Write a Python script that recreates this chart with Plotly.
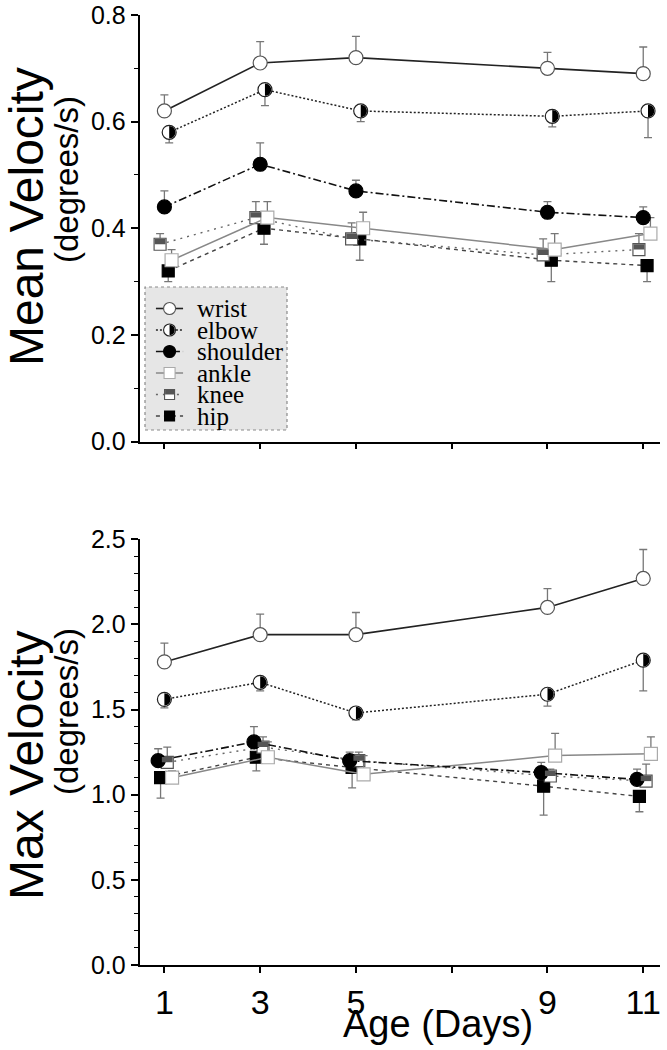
import plotly.graph_objects as go

# ---------------- data ----------------
DAYS = [1, 3, 5, 9, 11]
SERIES = ["wrist", "elbow", "shoulder", "ankle", "knee", "hip"]

X_TICKS = [1, 3, 5, 7, 9, 11]
X_TICK_TEXT = ["1", "3", "5", "", "9", "11"]

# Mean velocity (degrees/s)
MEAN_WRIST = [0.62, 0.71, 0.72, 0.70, 0.69]
MEAN_ELBOW = [0.58, 0.66, 0.62, 0.61, 0.62]
MEAN_SHOULDER = [0.44, 0.52, 0.47, 0.43, 0.42]
MEAN_ANKLE = [0.34, 0.42, 0.40, 0.36, 0.39]
MEAN_KNEE = [0.37, 0.42, 0.38, 0.35, 0.36]
MEAN_HIP = [0.32, 0.40, 0.38, 0.34, 0.33]

MEAN_WRIST_ERR = [0.03, 0.04, 0.04, 0.03, 0.05]
MEAN_ELBOW_ERR = [0.02, 0.03, 0.02, 0.02, 0.05]
MEAN_SHOULDER_ERR = [0.03, 0.04, 0.02, 0.02, 0.02]
MEAN_ANKLE_ERR = [0.02, 0.03, 0.03, 0.03, 0.03]
MEAN_KNEE_ERR = [0.02, 0.03, 0.03, 0.03, 0.03]
MEAN_HIP_ERR = [0.02, 0.03, 0.04, 0.04, 0.03]

# Max velocity (degrees/s)
MAX_WRIST = [1.78, 1.94, 1.94, 2.10, 2.27]
MAX_ELBOW = [1.56, 1.66, 1.48, 1.59, 1.79]
MAX_SHOULDER = [1.20, 1.31, 1.20, 1.13, 1.09]
MAX_ANKLE = [1.10, 1.22, 1.12, 1.23, 1.24]
MAX_KNEE = [1.19, 1.28, 1.20, 1.11, 1.08]
MAX_HIP = [1.10, 1.22, 1.16, 1.05, 0.99]

MAX_WRIST_ERR = [0.11, 0.12, 0.13, 0.11, 0.17]
MAX_ELBOW_ERR = [0.05, 0.05, 0.04, 0.07, 0.18]
MAX_SHOULDER_ERR = [0.07, 0.09, 0.05, 0.06, 0.06]
MAX_ANKLE_ERR = [0.04, 0.09, 0.11, 0.13, 0.10]
MAX_KNEE_ERR = [0.09, 0.06, 0.05, 0.04, 0.10]
MAX_HIP_ERR = [0.12, 0.08, 0.12, 0.17, 0.09]

MEAN = {"wrist": MEAN_WRIST, "elbow": MEAN_ELBOW, "shoulder": MEAN_SHOULDER,
        "ankle": MEAN_ANKLE, "knee": MEAN_KNEE, "hip": MEAN_HIP}
MEAN_ERR = {"wrist": MEAN_WRIST_ERR, "elbow": MEAN_ELBOW_ERR, "shoulder": MEAN_SHOULDER_ERR,
            "ankle": MEAN_ANKLE_ERR, "knee": MEAN_KNEE_ERR, "hip": MEAN_HIP_ERR}
MAXV = {"wrist": MAX_WRIST, "elbow": MAX_ELBOW, "shoulder": MAX_SHOULDER,
        "ankle": MAX_ANKLE, "knee": MAX_KNEE, "hip": MAX_HIP}
MAXV_ERR = {"wrist": MAX_WRIST_ERR, "elbow": MAX_ELBOW_ERR, "shoulder": MAX_SHOULDER_ERR,
            "ankle": MAX_ANKLE_ERR, "knee": MAX_KNEE_ERR, "hip": MAX_HIP_ERR}

# ---------------- styles ----------------
W, H = 667, 1050
SANS = "Liberation Sans, Arial, sans-serif"
SERIF = "Liberation Serif, Times New Roman, serif"
ERR_COLOR = "#777777"

STYLE = {
    "wrist": dict(line=dict(color="#222222", width=1.6, dash="solid"),
                  symbol="circle", size=14, fill="white", edge="#555555", err="up"),
    "elbow": dict(line=dict(color="#222222", width=1.5, dash="2px,2px"),
                  symbol="circle", size=14, fill="white", edge="#222222", err="down", half="circle"),
    "shoulder": dict(line=dict(color="#111111", width=1.6, dash="8px,3px,2px,3px"),
                     symbol="circle", size=14, fill="black", edge="black", err="up"),
    "ankle": dict(line=dict(color="#888888", width=1.5, dash="solid"),
                  symbol="square", size=13, fill="white", edge="#aaaaaa", err="up"),
    "knee": dict(line=dict(color="#666666", width=1.4, dash="2px,5px"),
                 symbol="square", size=12, fill="white", edge="#555555", err="up", half="square"),
    "hip": dict(line=dict(color="#444444", width=1.4, dash="4px,4px"),
                symbol="square", size=12, fill="black", edge="black", err="down"),
}
# small horizontal dodge (in days) so overlapping markers stay visible
DODGE_TOP = {"wrist": 0.0, "elbow": 0.1, "shoulder": 0.0, "ankle": 0.15, "knee": -0.09, "hip": 0.08}
DODGE_BOT = {"wrist": 0.0, "elbow": 0.0, "shoulder": -0.13, "ankle": 0.16, "knee": 0.06, "hip": -0.08}

PLOT_L, PLOT_R = 139.5, 660
TOP1, BOT1 = 15, 441.5
TOP2, BOT2 = 539.3, 965


def fx(p):
    return p / W


def fy(p):
    return 1 - p / H


fig = go.Figure()
shapes = []


def half_shape(kind, xref, yref, x, y, r):
    k = 0.5523 * r
    base = dict(xref=xref, yref=yref, xsizemode="pixel", ysizemode="pixel",
                xanchor=x, yanchor=y, line=dict(width=0), layer="above")
    if kind == "circle":
        path = (f"M0,{r} C{k},{r} {r},{k} {r},0 C{r},{-k} {k},{-r} 0,{-r} Z")
        base.update(type="path", path=path, fillcolor="black")
    else:
        base.update(type="rect", x0=-r, x1=r, y0=0, y1=r, fillcolor="#555555")
    return base


def add_panel(values, errs, dodge, xref, yref):
    for name in reversed(SERIES):
        st = STYLE[name]
        xs = [d + dodge[name] for d in DAYS]
        ys = values[name]
        e = errs[name]
        zeros = [0] * len(e)
        if st["err"] == "up":
            err = dict(type="data", symmetric=False, array=e, arrayminus=zeros)
        else:
            err = dict(type="data", symmetric=False, array=zeros, arrayminus=e)
        err.update(color=ERR_COLOR, thickness=1.3, width=4)
        fig.add_trace(go.Scatter(
            x=xs, y=ys, mode="lines+markers", name=name, showlegend=False,
            xaxis=xref, yaxis=yref, line=st["line"], error_y=err,
            marker=dict(symbol=st["symbol"], size=st["size"], color=st["fill"],
                        line=dict(color=st["edge"], width=1.2)),
            hoverinfo="skip"))
        if "half" in st:
            r = 6.2 if st["half"] == "circle" else 5.4
            for x, y in zip(xs, ys):
                shapes.append(half_shape(st["half"], xref, yref, x, y, r))


add_panel(MEAN, MEAN_ERR, DODGE_TOP, "x", "y")
add_panel(MAXV, MAXV_ERR, DODGE_BOT, "x2", "y2")

# ---------------- legend (drawn manually) ----------------
LEG_L, LEG_R, LEG_T, LEG_B = 145, 287, 287, 430
ROW_H = 21.5
first_row = 308.5
for i, name in enumerate(SERIES):
    st = STYLE[name]
    fig.add_trace(go.Scatter(x=[0.077, 0.268], y=[i, i], mode="lines", xaxis="x3", yaxis="y3",
                             line=st["line"], showlegend=False, hoverinfo="skip"))
    fig.add_trace(go.Scatter(x=[0.173], y=[i], mode="markers", xaxis="x3", yaxis="y3",
                             marker=dict(symbol=st["symbol"], size=st["size"] - 2, color=st["fill"],
                                         line=dict(color=st["edge"], width=1.1)),
                             showlegend=False, hoverinfo="skip"))
    if "half" in st:
        r = 5.2 if st["half"] == "circle" else 4.5
        shapes.append(half_shape(st["half"], "x3", "y3", 0.173, i, r))

shapes.insert(0, dict(type="rect", xref="paper", yref="paper",
                      x0=fx(LEG_L), x1=fx(LEG_R), y0=fy(LEG_B), y1=fy(LEG_T),
                      fillcolor="#e6e6e6", line=dict(color="#8a8a8a", width=1.2, dash="dot"),
                      layer="below"))

annotations = []
for i, name in enumerate(SERIES):
    annotations.append(dict(x=0.35, y=i, xref="x3", yref="y3", text=name, showarrow=False,
                            xanchor="left", yanchor="middle",
                            font=dict(family=SERIF, size=25, color="black")))


def title(text, xp, yp, size, angle):
    return dict(x=fx(xp), y=fy(yp), xref="paper", yref="paper", text=text, textangle=angle,
                showarrow=False, xanchor="center", yanchor="middle",
                font=dict(family=SANS, size=size, color="black"))


annotations += [
    title("Mean Velocity", 26, 217, 48, -90),
    title("(degrees/s)", 66, 180, 33, -90),
    title("Max Velocity", 26, 766, 48, -90),
    title("(degrees/s)", 66, 712, 33, -90),
    title("Age (Days)", 438, 1024, 38, 0),
]

X_RANGE = [0.48, 11.35]
common_x = dict(range=X_RANGE, tickvals=X_TICKS, ticktext=X_TICK_TEXT, ticks="outside",
                ticklen=6, tickwidth=1.5, tickcolor="black", showline=True, linecolor="black",
                linewidth=1.6, showgrid=False, zeroline=False, fixedrange=True,
                domain=[fx(PLOT_L), fx(PLOT_R)],
                tickfont=dict(family=SANS, size=34, color="black"))
common_y = dict(ticks="outside", ticklen=7, tickwidth=1.5, tickcolor="black", showline=True,
                linecolor="black", linewidth=1.6, showgrid=False, zeroline=False, fixedrange=True,
                tickformat=".1f", tickmode="linear", tick0=0,
                tickfont=dict(family=SANS, size=25, color="black"))

fig.update_layout(
    width=W, height=H, margin=dict(l=0, r=0, t=0, b=0, autoexpand=False),
    paper_bgcolor="white", plot_bgcolor="rgba(0,0,0,0)", showlegend=False,
    xaxis=dict(common_x, anchor="y", showticklabels=False),
    yaxis=dict(common_y, anchor="x", range=[0, 0.8], dtick=0.2,
               domain=[fy(BOT1), fy(TOP1)],
               minor=dict(dtick=0.1, ticklen=4, tickwidth=1.3, tickcolor="black", ticks="outside")),
    xaxis2=dict(common_x, anchor="y2"),
    yaxis2=dict(common_y, anchor="x2", range=[0, 2.5], dtick=0.5,
                domain=[fy(BOT2), fy(TOP2)],
                minor=dict(dtick=0.1, ticklen=4, tickwidth=1.3, tickcolor="black", ticks="outside")),
    xaxis3=dict(domain=[fx(LEG_L), fx(LEG_R)], range=[0, 1], visible=False, fixedrange=True,
                anchor="y3"),
    yaxis3=dict(domain=[fy(LEG_B), fy(LEG_T)],
                range=[(LEG_B - first_row) / ROW_H, (LEG_T - first_row) / ROW_H],
                visible=False, fixedrange=True, anchor="x3"),
    shapes=shapes,
    annotations=annotations,
)

fig.write_html("out.html", post_script="document.body.style.margin='0';",
               config={"displayModeBar": False})
